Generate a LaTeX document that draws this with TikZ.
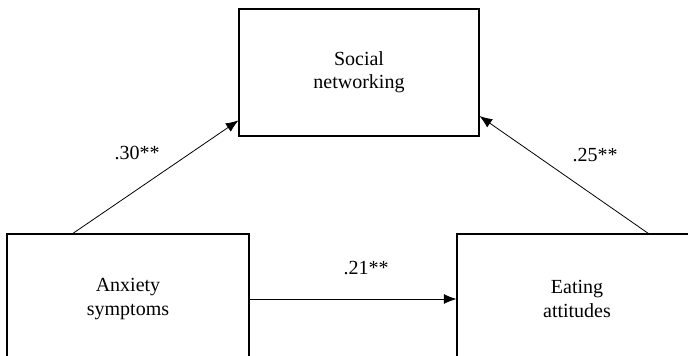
\documentclass[tikz,border=0pt]{standalone}
\usepackage{fontspec}
\setmainfont{Liberation Serif}
\usetikzlibrary{arrows.meta,calc}
\begin{document}
\begin{tikzpicture}[x=0.75pt,y=-0.75pt,
  box/.style={draw, line width=0.8pt, rectangle, inner sep=0pt, align=center,
    font=\fontsize{15pt}{17.5pt}\selectfont},
  lab/.style={font=\fontsize{15pt}{17.5pt}\selectfont},
  conn/.style={line width=0.6pt, -{Latex[length=9.5pt,width=7.5pt]}}]
\useasboundingbox (0,0) rectangle (688,356);
\clip (0,0) rectangle (688,356);
\node[box, minimum width=180pt, minimum height=95.25pt] (soc) at (359,72.5) {Social\\networking};
\node[box, minimum width=181.5pt, minimum height=97.5pt] (anx) at (128,299) {Anxiety\\symptoms};
\node[box, minimum width=180pt, minimum height=97.5pt] (eat) at (577,299) {Eating\\attitudes};
\draw[conn] ($(anx.north west)!0.273!(anx.north east)$) -- ($(soc.north west)!0.874!(soc.south west)$);
\draw[conn] ($(eat.north west)!0.796!(eat.north east)$) -- ($(soc.north east)!0.84!(soc.south east)$);
\draw[conn] (anx.east) -- (eat.west);
\node[lab] (l1) at (137,153) {.30**};
\node[lab] (l2) at (595,155) {.25**};
\node[lab] (l3) at (366,268) {.21**};
\end{tikzpicture}
\end{document}
